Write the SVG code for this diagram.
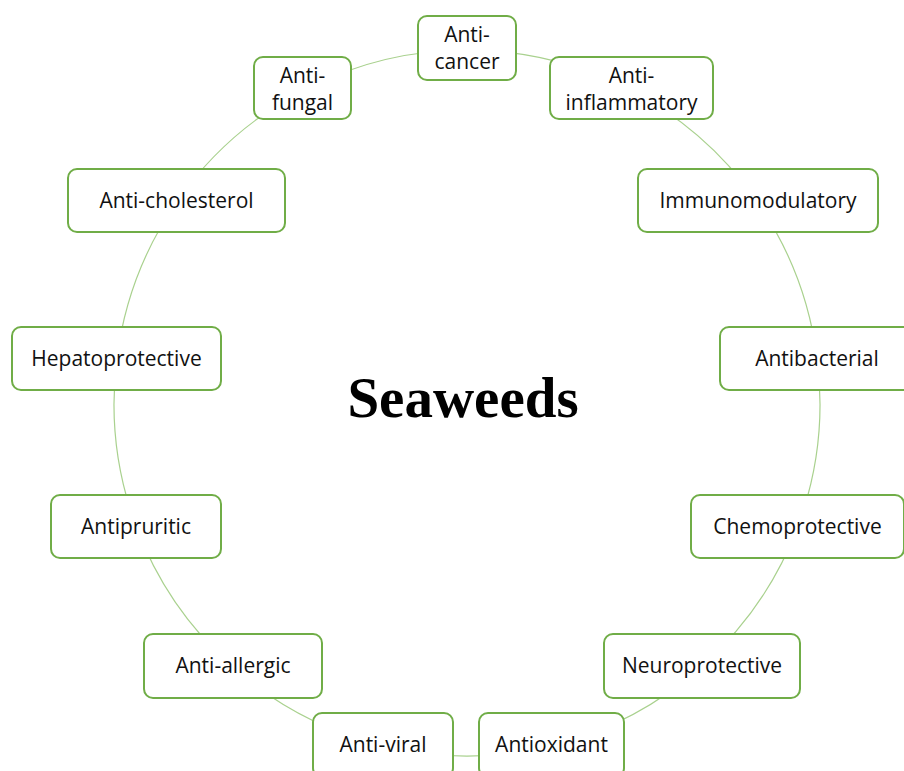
<svg xmlns="http://www.w3.org/2000/svg" width="904" height="771" viewBox="0 0 904 771">
<style>
.box{fill:#fff;stroke:#70AD47;stroke-width:2}
.lbl{font-family:"Open Sans","Liberation Sans",sans-serif;font-size:21px;fill:#111;text-anchor:middle}
.con{fill:none;stroke:#A9D18E;stroke-width:1.2}
.title{font-family:"Liberation Serif","Times New Roman",serif;font-weight:bold;font-size:57px;fill:#000;text-anchor:middle}
</style>
<rect width="904" height="771" fill="#fff"/>
<g id="connectors">
<path class="con" d="M467,50 A353,353 0 0 1 626,88"/>
<path class="con" d="M626,88 A353,353 0 0 1 756,200"/>
<path class="con" d="M756,200 A353,353 0 0 1 817,358"/>
<path class="con" d="M817,358 A353,353 0 0 1 798,526"/>
<path class="con" d="M798,526 A353,353 0 0 1 702,666"/>
<path class="con" d="M702,666 A353,353 0 0 1 554,745"/>
<path class="con" d="M554,745 A353,353 0 0 1 380,745"/>
<path class="con" d="M380,745 A353,353 0 0 1 231.5,666"/>
<path class="con" d="M231.5,666 A353,353 0 0 1 136,526"/>
<path class="con" d="M136,526 A353,353 0 0 1 117,358"/>
<path class="con" d="M117,358 A353,353 0 0 1 178,200"/>
<path class="con" d="M178,200 A353,353 0 0 1 308,88"/>
<path class="con" d="M308,88 A353,353 0 0 1 467,50"/>
</g>
<g id="center"><text class="title" x="463" y="417">Seaweeds</text></g>
<g id="anti-cancer"><rect class="box" x="418" y="16" width="98" height="64" rx="9"/><text class="lbl" x="467" y="42">Anti-</text><text class="lbl" x="467" y="69">cancer</text></g>
<g id="anti-inflammatory"><rect class="box" x="550" y="57" width="163" height="62" rx="9"/><text class="lbl" x="631.5" y="83">Anti-</text><text class="lbl" x="631.5" y="110">inflammatory</text></g>
<g id="immunomodulatory"><rect class="box" x="638" y="169" width="240" height="63" rx="9"/><text class="lbl" x="758" y="208">Immunomodulatory</text></g>
<g id="antibacterial"><rect class="box" x="720" y="327" width="194" height="63" rx="9"/><text class="lbl" x="817" y="366">Antibacterial</text></g>
<g id="chemoprotective"><rect class="box" x="691" y="495" width="213" height="63" rx="9"/><text class="lbl" x="797.5" y="534">Chemoprotective</text></g>
<g id="neuroprotective"><rect class="box" x="604" y="634" width="196" height="64" rx="9"/><text class="lbl" x="702" y="673">Neuroprotective</text></g>
<g id="antioxidant"><rect class="box" x="479" y="713" width="145" height="64" rx="9"/><text class="lbl" x="551.5" y="752">Antioxidant</text></g>
<g id="anti-viral"><rect class="box" x="313" y="713" width="140" height="64" rx="9"/><text class="lbl" x="383" y="752">Anti-viral</text></g>
<g id="anti-allergic"><rect class="box" x="144" y="634" width="178" height="64" rx="9"/><text class="lbl" x="233" y="673">Anti-allergic</text></g>
<g id="antipruritic"><rect class="box" x="51" y="495" width="170" height="63" rx="9"/><text class="lbl" x="136" y="534">Antipruritic</text></g>
<g id="hepatoprotective"><rect class="box" x="12" y="327" width="209" height="63" rx="9"/><text class="lbl" x="116.5" y="366">Hepatoprotective</text></g>
<g id="anti-cholesterol"><rect class="box" x="68" y="169" width="217" height="63" rx="9"/><text class="lbl" x="176.5" y="208">Anti-cholesterol</text></g>
<g id="anti-fungal"><rect class="box" x="254" y="57" width="97" height="62" rx="9"/><text class="lbl" x="302.5" y="83">Anti-</text><text class="lbl" x="302.5" y="110">fungal</text></g>
</svg>
